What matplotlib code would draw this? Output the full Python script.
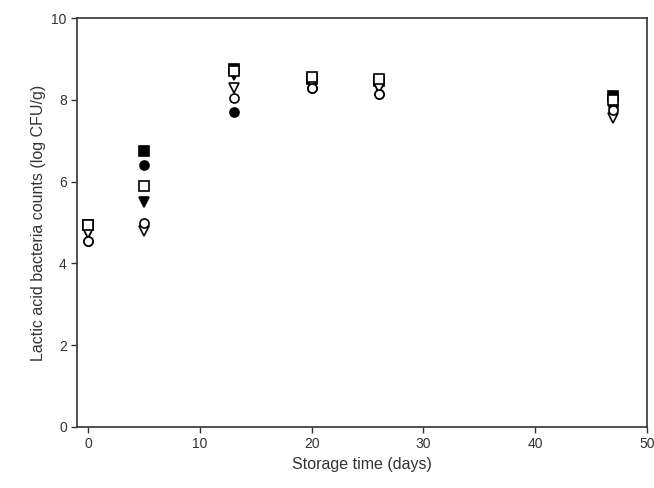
import matplotlib
matplotlib.use("Agg")
import matplotlib.pyplot as plt

plt.rcParams['font.family'] = ['Liberation Sans', 'DejaVu Sans']

# storage days
days = [0, 5, 13, 20, 26, 47]

# log CFU/g per treatment
s_filled_circle = [4.55, 6.40, 7.70, 8.30, 8.15, 7.85]
s_open_circle = [4.55, 5.00, 8.05, 8.30, 8.15, 7.75]
s_filled_tri = [4.75, 5.50, 8.60, 8.45, 8.30, 7.90]
s_open_tri = [4.75, 4.80, 8.30, 8.40, 8.30, 7.55]
s_filled_sq = [4.95, 6.75, 8.75, 8.50, 8.45, 8.10]
s_open_sq = [4.95, 5.90, 8.70, 8.55, 8.50, 8.00]

series = [
    (s_filled_circle, 'o', 'black'),
    (s_filled_tri, 'v', 'black'),
    (s_filled_sq, 's', 'black'),
    (s_open_tri, 'v', 'white'),
    (s_open_sq, 's', 'white'),
    (s_open_circle, 'o', 'white'),
]

fig = plt.figure(figsize=(6.54, 4.88), dpi=100)
ax = fig.add_axes([0.118, 0.125, 0.871, 0.838])

for vals, mk, fc in series:
    ax.plot(days, vals, linestyle='none', marker=mk, markersize=6.5,
            markerfacecolor=fc, markeredgecolor='black', markeredgewidth=1.2)

ax.set_xlim(-1, 50)
ax.set_ylim(0, 10)
ax.set_xticks([0, 10, 20, 30, 40, 50])
ax.set_yticks([0, 2, 4, 6, 8, 10])
ax.tick_params(direction='out', length=4, width=1, labelsize=10, colors='#333333')
for sp in ax.spines.values():
    sp.set_color('#333333')
    sp.set_linewidth(1.2)

ax.set_xlabel("Storage time (days)", fontsize=11.5, color='#333333')
ax.set_ylabel("Lactic acid bacteria counts (log CFU/g)", fontsize=11.5, color='#333333')

fig.savefig("out.png", dpi=100)
